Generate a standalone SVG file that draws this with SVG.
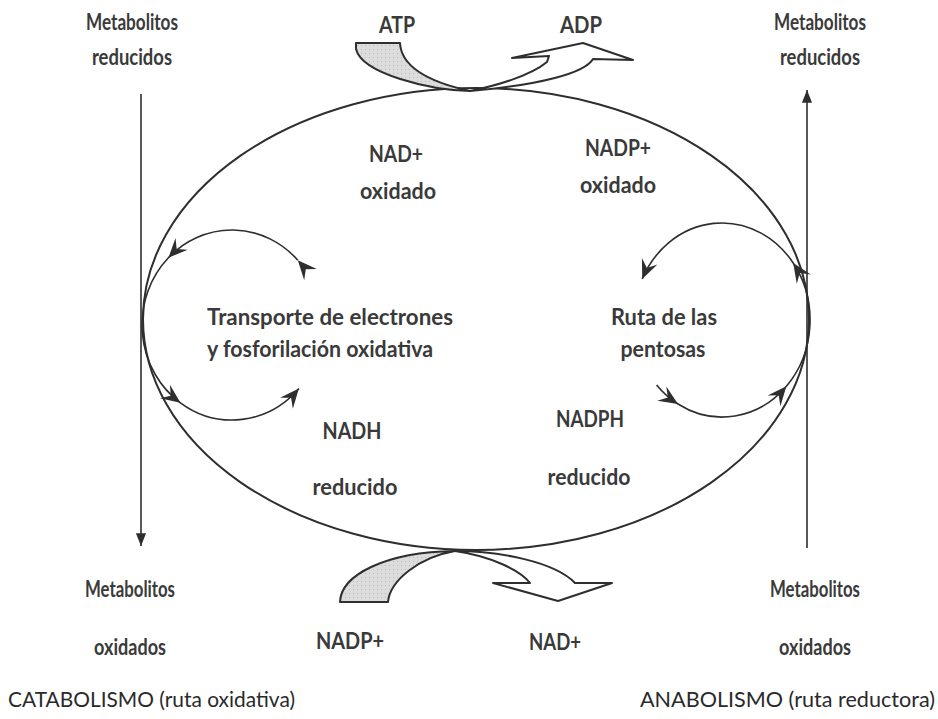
<svg xmlns="http://www.w3.org/2000/svg" width="938" height="719" viewBox="0 0 938 719">
<defs>
<marker id="barb" markerUnits="userSpaceOnUse" markerWidth="24" markerHeight="24" viewBox="-18 -9 20 18" refX="0" refY="0" orient="auto" overflow="visible">
<path d="M0,0 L-16,-7 L-10,0 L-16,7 Z" fill="#2e2e2e"/>
</marker>
<marker id="tri" markerUnits="userSpaceOnUse" markerWidth="14" markerHeight="14" viewBox="-10 -5 11 10" refX="0" refY="0" orient="auto" overflow="visible">
<path d="M0,0 L-10,-4 L-10,4 Z" fill="#2e2e2e"/>
</marker>
<pattern id="dots" width="4" height="4" patternUnits="userSpaceOnUse">
<rect width="4" height="4" fill="#dcdcdc"/>
<rect x="1" y="1" width="1" height="1" fill="#bdbdbd"/>
</pattern>
</defs>
<style>
.t{font-family:Lato,"Open Sans","Liberation Sans",sans-serif;font-weight:700;fill:#3a3a3a;font-size:22px;text-anchor:middle}
.r{font-weight:400;fill:#2a2a2a;font-size:21px}
.ln{fill:none;stroke:#2e2e2e;stroke-width:1.6}
.el{fill:none;stroke:#2e2e2e;stroke-width:2}
.band{stroke:#2e2e2e;stroke-width:2;stroke-linejoin:round}
</style>
<rect width="938" height="719" fill="#ffffff"/>

<g id="connectors">
<ellipse class="el" cx="476" cy="319" rx="333" ry="231"/>
<line class="ln" x1="141" y1="94" x2="141" y2="546" marker-end="url(#tri)"/>
<line class="ln" x1="807" y1="548" x2="807" y2="90" marker-end="url(#tri)"/>
<path class="ln" d="M297.8,260.2 A90,95 0 0 0 168.4,257.8 A90,95 0 0 0 180.4,402.8 A90,95 0 0 0 298.9,388.6" marker-start="url(#barb)" marker-mid="url(#barb)" marker-end="url(#barb)"/>
<path class="ln" d="M656.6,384.9 A88,97 0 0 0 678,404 A88,97 0 0 0 786.4,386.2 A88,97 0 0 0 793.2,263 A88,97 0 0 0 642.2,279" marker-mid="url(#barb)" marker-end="url(#barb)"/>
<path id="atp-arrow" class="band" fill="url(#dots)" d="M356,43 L400,43 C401,62 420,80 470,91 C430,90 362,74 356,49 Z"/>
<path id="adp-arrow" class="band" fill="#ffffff" d="M470,91 C495,86 530,76 547,62 L549,56 L512,58 L583,43 L633,60 L593,59 C585,73 540,85 470,91 Z"/>
<path id="nadp-arrow" class="band" fill="url(#dots)" d="M340,602 C341,575 385,552 455,551 C420,557 390,580 388,602 Z"/>
<path id="nad-arrow" class="band" fill="#ffffff" d="M455,551 C490,556 520,570 530,583 L493,583 L558,601 L612,583 L575,583 C555,562 500,551 455,551 Z"/>
</g>

<g id="met-red-left"><text class="t" x="132" y="30" textLength="92" lengthAdjust="spacingAndGlyphs">Metabolitos</text><text class="t" x="132" y="65" textLength="80" lengthAdjust="spacingAndGlyphs">reducidos</text></g>
<g id="atp"><text class="t" x="397" y="33" textLength="36" lengthAdjust="spacingAndGlyphs">ATP</text></g>
<g id="adp"><text class="t" x="581" y="33" textLength="42" lengthAdjust="spacingAndGlyphs">ADP</text></g>
<g id="met-red-right"><text class="t" x="820" y="30" textLength="92" lengthAdjust="spacingAndGlyphs">Metabolitos</text><text class="t" x="820" y="65" textLength="80" lengthAdjust="spacingAndGlyphs">reducidos</text></g>
<g id="nad-ox"><text class="t" x="396" y="162" textLength="54" lengthAdjust="spacingAndGlyphs">NAD+</text><text class="t" x="398" y="199" textLength="76" lengthAdjust="spacingAndGlyphs">oxidado</text></g>
<g id="nadp-ox"><text class="t" x="618" y="156" textLength="66" lengthAdjust="spacingAndGlyphs">NADP+</text><text class="t" x="618" y="193" textLength="76" lengthAdjust="spacingAndGlyphs">oxidado</text></g>
<g id="transporte"><text class="t" x="207" y="325" style="text-anchor:start" textLength="246" lengthAdjust="spacingAndGlyphs">Transporte de electrones</text><text class="t" x="207" y="357" style="text-anchor:start" textLength="226" lengthAdjust="spacingAndGlyphs">y fosforilación oxidativa</text></g>
<g id="ruta"><text class="t" x="664" y="325" textLength="106" lengthAdjust="spacingAndGlyphs">Ruta de las</text><text class="t" x="663" y="357" textLength="85" lengthAdjust="spacingAndGlyphs">pentosas</text></g>
<g id="nadh"><text class="t" x="352" y="439" textLength="59" lengthAdjust="spacingAndGlyphs">NADH</text><text class="t" x="355" y="495" textLength="85" lengthAdjust="spacingAndGlyphs">reducido</text></g>
<g id="nadph"><text class="t" x="590" y="427" textLength="68" lengthAdjust="spacingAndGlyphs">NADPH</text><text class="t" x="589" y="485" textLength="83" lengthAdjust="spacingAndGlyphs">reducido</text></g>
<g id="met-ox-left"><text class="t" x="130" y="597" textLength="90" lengthAdjust="spacingAndGlyphs">Metabolitos</text><text class="t" x="130" y="655" textLength="72" lengthAdjust="spacingAndGlyphs">oxidados</text></g>
<g id="nadp-bottom"><text class="t" x="350" y="649" textLength="68" lengthAdjust="spacingAndGlyphs">NADP+</text></g>
<g id="nad-bottom"><text class="t" x="555" y="650" textLength="52" lengthAdjust="spacingAndGlyphs">NAD+</text></g>
<g id="met-ox-right"><text class="t" x="815" y="597" textLength="90" lengthAdjust="spacingAndGlyphs">Metabolitos</text><text class="t" x="815" y="655" textLength="72" lengthAdjust="spacingAndGlyphs">oxidados</text></g>
<g id="catabolismo"><text class="t r" x="8" y="707" style="text-anchor:start" textLength="287" lengthAdjust="spacingAndGlyphs">CATABOLISMO (ruta oxidativa)</text></g>
<g id="anabolismo"><text class="t r" x="935" y="707" style="text-anchor:end" textLength="295" lengthAdjust="spacingAndGlyphs">ANABOLISMO (ruta reductora)</text></g>
</svg>
